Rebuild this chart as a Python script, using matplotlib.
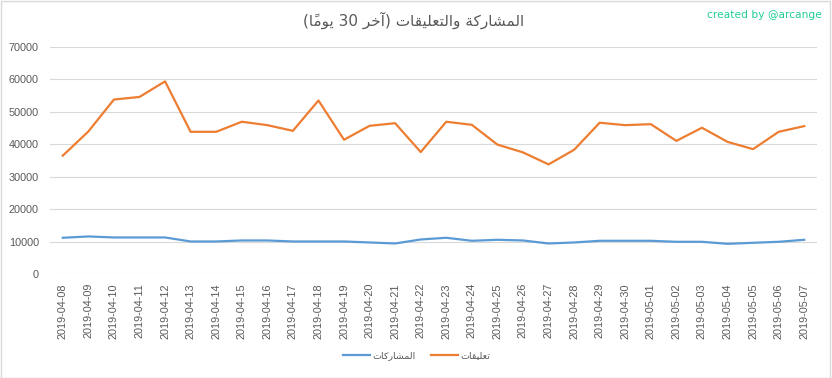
import matplotlib
matplotlib.use("Agg")
import matplotlib.pyplot as plt
from matplotlib.patches import Rectangle

# ---------------- data ----------------
dates = ["2019-04-08", "2019-04-09", "2019-04-10", "2019-04-11", "2019-04-12",
         "2019-04-13", "2019-04-14", "2019-04-15", "2019-04-16", "2019-04-17",
         "2019-04-18", "2019-04-19", "2019-04-20", "2019-04-21", "2019-04-22",
         "2019-04-23", "2019-04-24", "2019-04-25", "2019-04-26", "2019-04-27",
         "2019-04-28", "2019-04-29", "2019-04-30", "2019-05-01", "2019-05-02",
         "2019-05-03", "2019-05-04", "2019-05-05", "2019-05-06", "2019-05-07"]
participations = [11170, 11580, 11270, 11270, 11270, 10030, 10030, 10340, 10340, 10030,
                  10030, 10030, 9720, 9410, 10650, 11170, 10240, 10550, 10340, 9410,
                  9720, 10240, 10240, 10240, 9930, 9930, 9300, 9620, 9930, 10550]
comments = [36500, 43950, 53800, 54600, 59400, 43850, 43850, 46950, 45900, 44150,
            53500, 41400, 45700, 46500, 37600, 46950, 46000, 39900, 37500, 33800,
            38300, 46650, 45900, 46200, 41050, 45100, 40750, 38500, 43850, 45600]
y_ticks = [0, 10000, 20000, 30000, 40000, 50000, 60000, 70000]

title_text = "المشاركة والتعليقات (آخر 30 يومًا)"
label_participations = "المشاركات"
label_comments = "تعليقات"
credit_text = "created by @arcange"

# ---------------- minimal Arabic shaping ----------------
FORMS = {
    'ا': ('\uFE8D', '\uFE8E', None, None),
    'آ': ('\uFE81', '\uFE82', None, None),
    'ة': ('\uFE93', '\uFE94', None, None),
    'ت': ('\uFE95', '\uFE96', '\uFE97', '\uFE98'),
    'خ': ('\uFEA5', '\uFEA6', '\uFEA7', '\uFEA8'),
    'ر': ('\uFEAD', '\uFEAE', None, None),
    'ش': ('\uFEB5', '\uFEB6', '\uFEB7', '\uFEB8'),
    'ع': ('\uFEC9', '\uFECA', '\uFECB', '\uFECC'),
    'ق': ('\uFED5', '\uFED6', '\uFED7', '\uFED8'),
    'ك': ('\uFED9', '\uFEDA', '\uFEDB', '\uFEDC'),
    'ل': ('\uFEDD', '\uFEDE', '\uFEDF', '\uFEE0'),
    'م': ('\uFEE1', '\uFEE2', '\uFEE3', '\uFEE4'),
    'و': ('\uFEED', '\uFEEE', None, None),
    'ي': ('\uFEF1', '\uFEF2', '\uFEF3', '\uFEF4'),
}
MARKS = {'\u064B'}


def shape(text):
    chars = list(text)
    n = len(chars)

    def neighbor(i, step):
        j = i + step
        while 0 <= j < n and chars[j] in MARKS:
            j += step
        return chars[j] if 0 <= j < n else None

    out = []
    for i, c in enumerate(chars):
        if c in FORMS:
            p = neighbor(i, -1)
            nx = neighbor(i, 1)
            jp = p in FORMS and FORMS[p][2] is not None
            jn = nx in FORMS and FORMS[c][2] is not None
            iso, fin, ini, med = FORMS[c]
            if jp and jn:
                g = med
            elif jp:
                g = fin
            elif jn:
                g = ini
            else:
                g = iso
            out.append(g)
        else:
            out.append(c)
    # clusters: mark placed before its base in visual (LTR) order
    clusters = []
    for g, c in zip(out, chars):
        if c in MARKS and clusters:
            clusters[-1] = g + clusters[-1]
        else:
            clusters.append(g)
    clusters.reverse()
    mirror = {'(': ')', ')': '('}
    res = []
    i = 0
    while i < len(clusters):
        if clusters[i].isdigit():
            j = i
            while j < len(clusters) and clusters[j].isdigit():
                j += 1
            res.extend(reversed(clusters[i:j]))
            i = j
        else:
            res.append(mirror.get(clusters[i], clusters[i]))
            i += 1
    return ''.join(res)


# ---------------- figure ----------------
W, H = 832, 378
fig = plt.figure(figsize=(W / 100, H / 100), dpi=100)
fig.patch.set_facecolor("white")

# outer border
fig.patches.append(Rectangle((0.5 / W, 0.5 / H), (829.5) / W, (376.5) / H,
                             transform=fig.transFigure, fill=False,
                             edgecolor="#D9D9D9", linewidth=1.0))

ax = fig.add_axes([50 / W, 104 / H, 767 / W, 227 / H])
x = list(range(len(dates)))
ax.plot(x, participations, color="#5B9BD5", linewidth=1.6,
        label=shape(label_participations), solid_joinstyle="round")
ax.plot(x, comments, color="#ED7D31", linewidth=1.6,
        label=shape(label_comments), solid_joinstyle="round")

ax.set_xlim(-0.5, len(dates) - 0.5)
ax.set_ylim(0, 70000)
ax.set_yticks(y_ticks)
ax.set_yticklabels([str(v) for v in y_ticks])
ax.set_xticks(x)
ax.set_xticklabels(dates, rotation=90)
ax.grid(axis="y", color="#D9D9D9", linewidth=0.8)
ax.set_axisbelow(True)
for s in ax.spines.values():
    s.set_visible(False)
ax.tick_params(axis="both", length=0, labelcolor="#595959", labelsize=7.8)
ax.tick_params(axis="y", pad=8)
ax.tick_params(axis="x", pad=6.5)
for lbl in ax.get_xticklabels() + ax.get_yticklabels():
    lbl.set_fontfamily(["Liberation Sans", "DejaVu Sans"])

fig.text(0.497, 1 - 20 / H, shape(title_text), ha="center", va="center",
         fontsize=11, color="#595959", family=["DejaVu Sans"])
fig.text(822 / W, 1 - 15 / H, credit_text, ha="right", va="center",
         fontsize=7.7, color="#22CC98", family=["DejaVu Sans"])

leg = fig.legend(loc="center", bbox_to_anchor=(0.501, 1 - 356 / H), ncol=2,
                 frameon=False, handlelength=2.8, handletextpad=0.3,
                 columnspacing=1.6, prop={"family": "DejaVu Sans", "size": 6.8})
for t in leg.get_texts():
    t.set_color("#595959")

fig.savefig("out.png", dpi=100, facecolor="white")
